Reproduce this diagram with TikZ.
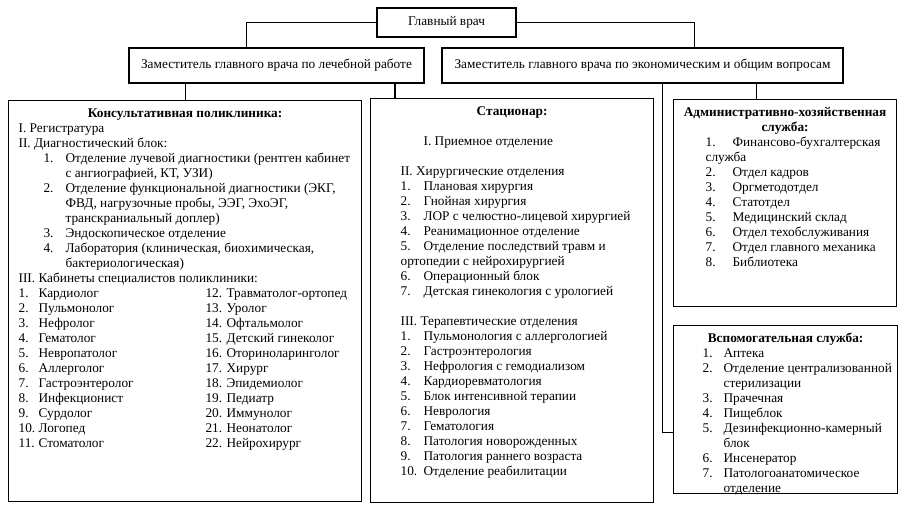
\documentclass[tikz,border=0pt]{standalone}
\usepackage{fontspec}
\setmainfont{Liberation Serif}
\usetikzlibrary{calc, positioning}
\tikzset{
    box/.style={draw, line width=1.2pt, fill=white, align=center, inner sep=0pt, font=\fontsize{13.3}{15}\selectfont},
    panel/.style={draw, line width=1.2pt, fill=white, inner sep=0pt, anchor=north west},
    link/.style={line width=1.2pt}
}
% number in a box of fixed width, after an indent
\newcommand{\numrow}[3]{\hspace*{#1pt}\makebox[#2pt][l]{#3}}
\newcommand{\panelfont}{\fontsize{13.3}{15}\selectfont\rule{0pt}{16.5pt}}
\newcommand{\paneltitle}[1]{\makebox[\linewidth]{\bfseries #1}}

\begin{document}
\begin{tikzpicture}[x=1pt, y=-1pt]
    \useasboundingbox (0,0) rectangle (908,512);
    % top level
    \node [box, minimum width=139pt, minimum height=29pt] (chief) at (446.5,22.5) {Главный врач};
    \node [box, minimum width=295pt, minimum height=35pt] (depmed) at (276.5,65.5) {Заместитель главного врача по лечебной работе};
    \node [box, minimum width=401pt, minimum height=35pt] (depeco) at (642.5,65.5) {Заместитель главного врача по экономическим и общим вопросам};
    % departments
    \node [panel] (consult) at (8,100) {\begin{minipage}[t][401pt][t]{353pt}\panelfont
        \paneltitle{Консультативная поликлиника:}\\
        \numrow{10}{0}{}I. Регистратура\\
        \numrow{10}{0}{}II. Диагностический блок:\\
        \numrow{35}{22}{1.}Отделение лучевой диагностики (рентген кабинет\\
        \numrow{57}{0}{}с ангиографией, КТ, УЗИ)\\
        \numrow{35}{22}{2.}Отделение функциональной диагностики (ЭКГ,\\
        \numrow{57}{0}{}ФВД, нагрузочные пробы, ЭЭГ, ЭхоЭГ,\\
        \numrow{57}{0}{}транскраниальный доплер)\\
        \numrow{35}{22}{3.}Эндоскопическое отделение\\
        \numrow{35}{22}{4.}Лаборатория (клиническая, биохимическая,\\
        \numrow{57}{0}{}бактериологическая)\\
        \numrow{10}{0}{}III. Кабинеты специалистов поликлиники:\\
        \numrow{10}{20}{1.}\makebox[167pt][l]{Кардиолог}\makebox[21pt][l]{12.}Травматолог-ортопед\\
        \numrow{10}{20}{2.}\makebox[167pt][l]{Пульмонолог}\makebox[21pt][l]{13.}Уролог\\
        \numrow{10}{20}{3.}\makebox[167pt][l]{Нефролог}\makebox[21pt][l]{14.}Офтальмолог\\
        \numrow{10}{20}{4.}\makebox[167pt][l]{Гематолог}\makebox[21pt][l]{15.}Детский гинеколог\\
        \numrow{10}{20}{5.}\makebox[167pt][l]{Невропатолог}\makebox[21pt][l]{16.}Оториноларинголог\\
        \numrow{10}{20}{6.}\makebox[167pt][l]{Аллерголог}\makebox[21pt][l]{17.}Хирург\\
        \numrow{10}{20}{7.}\makebox[167pt][l]{Гастроэнтеролог}\makebox[21pt][l]{18.}Эпидемиолог\\
        \numrow{10}{20}{8.}\makebox[167pt][l]{Инфекционист}\makebox[21pt][l]{19.}Педиатр\\
        \numrow{10}{20}{9.}\makebox[167pt][l]{Сурдолог}\makebox[21pt][l]{20.}Иммунолог\\
        \numrow{10}{20}{10.}\makebox[167pt][l]{Логопед}\makebox[21pt][l]{21.}Неонатолог\\
        \numrow{10}{20}{11.}\makebox[167pt][l]{Стоматолог}\makebox[21pt][l]{22.}Нейрохирург
    \end{minipage}};
    \node [panel] (hosp) at (370,98) {\begin{minipage}[t][404pt][t]{283pt}\panelfont
        \paneltitle{Стационар:}\\[15pt]
        \numrow{53}{0}{}I. Приемное отделение\\[15pt]
        \numrow{30}{0}{}II. Хирургические отделения\\
        \numrow{30}{23}{1.}Плановая хирургия\\
        \numrow{30}{23}{2.}Гнойная хирургия\\
        \numrow{30}{23}{3.}ЛОР с челюстно-лицевой хирургией\\
        \numrow{30}{23}{4.}Реанимационное отделение\\
        \numrow{30}{23}{5.}Отделение последствий травм и\\
        \numrow{30}{0}{}ортопедии с нейрохирургией\\
        \numrow{30}{23}{6.}Операционный блок\\
        \numrow{30}{23}{7.}Детская гинекология с урологией\\[15pt]
        \numrow{30}{0}{}III. Терапевтические отделения\\
        \numrow{30}{23}{1.}Пульмонология с аллергологией\\
        \numrow{30}{23}{2.}Гастроэнтерология\\
        \numrow{30}{23}{3.}Нефрология с гемодиализом\\
        \numrow{30}{23}{4.}Кардиоревматология\\
        \numrow{30}{23}{5.}Блок интенсивной терапии\\
        \numrow{30}{23}{6.}Неврология\\
        \numrow{30}{23}{7.}Гематология\\
        \numrow{30}{23}{8.}Патология новорожденных\\
        \numrow{30}{23}{9.}Патология раннего возраста\\
        \numrow{30}{23}{10.}Отделение реабилитации
    \end{minipage}};
    \node [panel] (admin) at (673,99) {\begin{minipage}[t][207pt][t]{223pt}\panelfont
        \paneltitle{Административно-хозяйственная}\\
        \paneltitle{служба:}\\
        \numrow{32}{27}{1.}Финансово-бухгалтерская\\
        \numrow{32}{0}{}служба\\
        \numrow{32}{27}{2.}Отдел кадров\\
        \numrow{32}{27}{3.}Оргметодотдел\\
        \numrow{32}{27}{4.}Статотдел\\
        \numrow{32}{27}{5.}Медицинский склад\\
        \numrow{32}{27}{6.}Отдел техобслуживания\\
        \numrow{32}{27}{7.}Отдел главного механика\\
        \numrow{32}{27}{8.}Библиотека
    \end{minipage}};
    \node [panel] (aux) at (673,325) {\begin{minipage}[t][168pt][t]{224pt}\panelfont
        \paneltitle{Вспомогательная служба:}\\
        \numrow{29}{21}{1.}Аптека\\
        \numrow{29}{21}{2.}Отделение централизованной\\
        \numrow{50}{0}{}стерилизации\\
        \numrow{29}{21}{3.}Прачечная\\
        \numrow{29}{21}{4.}Пищеблок\\
        \numrow{29}{21}{5.}Дезинфекционно-камерный\\
        \numrow{50}{0}{}блок\\
        \numrow{29}{21}{6.}Инсенератор\\
        \numrow{29}{21}{7.}Патологоанатомическое\\
        \numrow{50}{0}{}отделение
    \end{minipage}};
    % connectors
    \coordinate (medA) at ($(depmed.south west)!0.9!(depmed.south east)$);
    \coordinate (ecoA) at ($(depeco.south west)!0.783!(depeco.south east)$);
    \coordinate (ecoB) at ($(depeco.south west)!0.549!(depeco.south east)$);
    \draw [link] (chief.west) -| ($(depmed.north west)!0.4!(depmed.north east)$);
    \draw [link] (chief.east) -| ($(depeco.north west)!0.63!(depeco.north east)$);
    \draw [link] (consult.north) -- (consult.north |- depmed.south);
    \draw [link] (medA) -- (medA |- hosp.north);
    \draw [link] (ecoA) -- (ecoA |- admin.north);
    \draw [link] (ecoB) |- ($(aux.north west)!0.637!(aux.south west)$);
\end{tikzpicture}
\end{document}
